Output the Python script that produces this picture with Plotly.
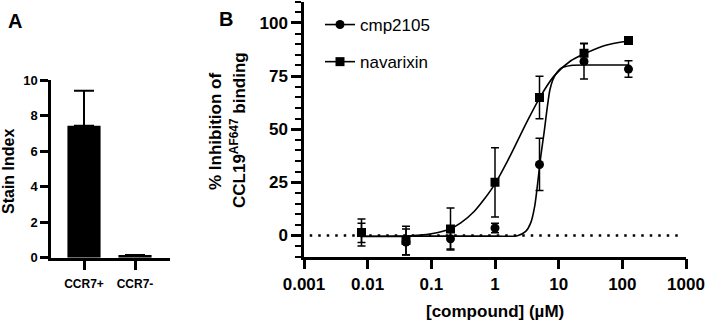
import plotly.graph_objects as go

W, H = 706, 321

# ---------------- Panel A data ----------------
a_categories = ["CCR7+", "CCR7-"]
a_values = [7.43, 0.15]
a_err_plus = [1.97, 0.0]

# ---------------- Panel B data ----------------
conc = [0.008, 0.04, 0.2, 1, 5, 25, 125]
cmp_mean = [1.2, -3.1, -1.6, 3.5, 33.4, 81.9, 78.3]
cmp_err = [4.5, 6.1, 4.8, 2.2, 12.3, 8.3, 3.9]
nav_mean = [1.4, -2.4, 3.0, 25.0, 64.9, 85.7, 91.7]
nav_err = [6.4, 6.7, 9.9, 16.3, 10.0, 4.7, 0.8]

# fitted curves
nav_fit_x = [0.008, 0.04, 0.1, 0.2, 0.29, 0.47, 0.67, 1.0, 1.57, 2.25, 3.23, 5.05,
             8.5, 15.5, 25, 51.6, 125]
nav_fit_y = [-0.5, -0.3, 0.8, 3.2, 5.9, 11.3, 16.9, 24.3, 35.0, 44.4, 53.9, 64.9,
             75.1, 82.2, 85.4, 89.3, 91.5]
cmp_fit_x = [0.008, 0.1, 1.0, 2.25, 3.04, 3.64, 4.2, 4.75, 5.24, 5.9, 6.67, 7.33,
             8.47, 10.8, 15.5, 40, 125]
cmp_fit_y = [-0.4, -0.3, -0.3, -0.1, 1.9, 5.9, 13.7, 26.3, 37.3, 48.4, 61.0, 68.9,
             74.5, 78.6, 80.0, 80.2, 80.2]

x_tickvals = [0.001, 0.01, 0.1, 1, 10, 100, 1000]
x_ticktext = ["0.001", "0.01", "0.1", "1", "10", "100", "1000"]
y_tickvals_b = [0, 25, 50, 75, 100]
y_tickvals_a = [0, 2, 4, 6, 8, 10]

FONT = "Liberation Sans, Arial, sans-serif"
BOLD = dict(family=FONT, size=17, color="black", weight="bold")


def px_x(p):
    return p / W


def px_y(p):
    return 1 - p / H


def b(s):
    return "<b>" + s + "</b>"


fig = go.Figure()

# Panel A bars
fig.add_trace(go.Bar(
    x=a_categories, y=a_values, xaxis="x", yaxis="y",
    marker=dict(color="black", line=dict(width=0)),
    width=0.65,
    error_y=dict(type="data", array=a_err_plus, arrayminus=[0, 0], symmetric=False,
                 color="black", thickness=2, width=10),
    showlegend=False,
))

# Panel B fitted curves
fig.add_trace(go.Scatter(
    x=nav_fit_x, y=nav_fit_y, xaxis="x2", yaxis="y2", mode="lines",
    line=dict(color="black", width=1.6, shape="spline", smoothing=0.8),
    showlegend=False, hoverinfo="skip",
))
fig.add_trace(go.Scatter(
    x=cmp_fit_x, y=cmp_fit_y, xaxis="x2", yaxis="y2", mode="lines",
    line=dict(color="black", width=1.6, shape="spline", smoothing=0.8),
    showlegend=False, hoverinfo="skip",
))

# Panel B data points
fig.add_trace(go.Scatter(
    x=conc, y=nav_mean, xaxis="x2", yaxis="y2", mode="markers",
    marker=dict(symbol="square", size=9, color="black"),
    error_y=dict(type="data", array=nav_err, color="black", thickness=1.5, width=4),
    showlegend=False,
))
fig.add_trace(go.Scatter(
    x=conc, y=cmp_mean, xaxis="x2", yaxis="y2", mode="markers",
    marker=dict(symbol="circle", size=9, color="black"),
    error_y=dict(type="data", array=cmp_err, color="black", thickness=1.5, width=4),
    showlegend=False,
))

# legend entries
fig.add_trace(go.Scatter(
    x=[None], y=[None], xaxis="x2", yaxis="y2", mode="lines+markers", name="cmp2105",
    marker=dict(symbol="circle", size=9, color="black"),
    line=dict(color="black", width=1.6), legendgroup="a",
))
fig.add_trace(go.Scatter(
    x=[None], y=[None], xaxis="x2", yaxis="y2", mode="lines+markers", name="navarixin",
    marker=dict(symbol="square", size=9, color="black"),
    line=dict(color="black", width=1.6), legendgroup="b",
))

axis_common = dict(showline=True, linecolor="black", linewidth=2.5, ticks="outside",
                   tickcolor="black", tickwidth=2.5, showgrid=False, zeroline=False,
                   automargin=False)

fig.update_layout(
    template="none",
    width=W, height=H,
    margin=dict(l=0, r=0, t=0, b=0, pad=0, autoexpand=False),
    paper_bgcolor="white", plot_bgcolor="white",
    font=dict(family=FONT, color="black"),
    xaxis=dict(domain=[px_x(51), px_x(170)], anchor="y", type="category",
               range=[-0.647, 1.686], ticklen=10, ticklabelstandoff=3,
               tickvals=a_categories, ticktext=[b(c) for c in a_categories],
               tickfont=dict(family=FONT, size=12, color="black"),
               **axis_common),
    yaxis=dict(domain=[px_y(257.7), px_y(80)], anchor="x", range=[0, 10],
               tickvals=y_tickvals_a, ticktext=[b(str(v)) for v in y_tickvals_a], ticklen=8,
               tickfont=dict(family=FONT, size=13, color="black"),
               **axis_common),
    xaxis2=dict(domain=[px_x(304), px_x(686)], anchor="y2", type="log",
                range=[-3, 3], tickvals=x_tickvals, ticktext=[b(t) for t in x_ticktext],
                ticklen=10, tickfont=BOLD, **axis_common),
    yaxis2=dict(domain=[px_y(256.7), px_y(1.7)], anchor="x2", range=[-10, 110],
                tickvals=y_tickvals_b, ticktext=[b(str(v)) for v in y_tickvals_b],
                ticklen=10, tickfont=BOLD,
                minor=dict(dtick=5, tick0=0, ticks="outside", ticklen=6,
                           tickwidth=2, tickcolor="black", showgrid=False),
                **axis_common),
    legend=dict(x=px_x(320), y=px_y(7), xanchor="left", yanchor="top",
                bgcolor="rgba(0,0,0,0)", font=dict(family=FONT, size=17, color="black"),
                tracegroupgap=12, itemwidth=30),
    showlegend=True,
    bargap=0.35,
)

# dotted baseline at 0
fig.add_shape(type="line", xref="x2 domain", yref="y2", x0=0.015, x1=0.99, y0=0, y1=0,
              line=dict(color="black", width=2.5, dash="2.5px,6px"))

annotations = [
    dict(text=b("A"), x=px_x(15), y=px_y(21), font=dict(family=FONT, size=20, color="black")),
    dict(text=b("B"), x=px_x(226), y=px_y(19), font=dict(family=FONT, size=20, color="black")),
    dict(text=b("Stain Index"), x=px_x(9), y=px_y(172), textangle=-90,
         font=dict(family=FONT, size=16, color="black")),
    dict(text=b("% Inhibition of"), x=px_x(215), y=px_y(132), textangle=-90, font=BOLD),
    dict(text=b("CCL19<sup>AF647</sup> binding"), x=px_x(238), y=px_y(130), textangle=-90, font=BOLD),
    dict(text=b("[compound] (µM)"), x=px_x(495), y=px_y(311), font=BOLD),
]
for a in annotations:
    fig.add_annotation(xref="paper", yref="paper", xanchor="center", yanchor="middle",
                       showarrow=False, **a)

fig.write_html(
    "out.html",
    config={"displayModeBar": False},
    post_script="document.body.style.margin='0';document.body.style.padding='0';"
                "document.documentElement.style.overflow='hidden';",
)
